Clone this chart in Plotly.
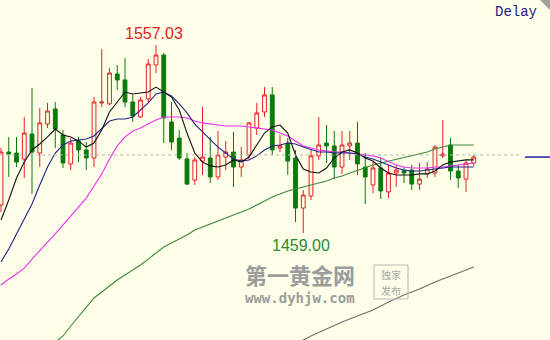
import plotly.graph_objects as go

# ---- data ----
idx = list(range(62))
opens = [1473.6,1501.2,1500.7,1497.6,1510.6,1500.7,1515.8,1523.7,1510.1,1495.0,
         1507.0,1502.3,1498.1,1526.8,1526.3,1541.9,1538.8,1527.3,1519.5,1528.9,
         1546.6,1551.8,1516.9,1508.5,1497.6,1486.6,1496.5,1498.1,1488.2,1498.6,
         1501.2,1493.4,1499.7,1513.7,1522.1,1531.0,1503.3,1505.9,1498.1,1472.0,
         1478.3,1499.2,1505.9,1504.4,1493.4,1504.4,1505.9,1493.4,1484.0,1492.9,
         1480.4,1490.3,1491.3,1491.8,1484.5,1489.8,1490.3,1499.2,1504.9,1491.3,
         1487.1,1495.5]
highs = [1503.3,1509.1,1509.1,1519.5,1534.6,1524.2,1526.8,1527.3,1512.7,1508.5,
         1509.1,1506.4,1529.9,1554.9,1545.0,1546.6,1550.2,1531.0,1529.9,1549.7,
         1557.03,1552.9,1527.3,1512.7,1500.7,1498.6,1524.7,1509.1,1512.2,1507.0,
         1511.7,1503.8,1516.9,1526.8,1535.1,1535.1,1510.1,1508.5,1502.3,1481.4,
         1502.3,1519.5,1515.3,1512.2,1512.2,1512.2,1516.9,1500.7,1496.0,1498.1,
         1494.5,1494.5,1493.4,1494.5,1495.5,1496.0,1504.9,1517.9,1508.5,1494.5,
         1497.1,1499.7]
lows = [1469.9,1488.2,1493.4,1487.7,1479.3,1493.4,1513.7,1503.3,1492.9,1491.8,
        1496.0,1491.8,1493.4,1524.7,1525.7,1533.6,1524.7,1516.9,1519.0,1527.3,
        1542.4,1505.9,1502.3,1497.1,1484.0,1484.0,1489.2,1485.1,1486.6,1491.8,
        1483.0,1488.2,1497.1,1510.1,1519.5,1499.7,1501.2,1489.2,1464.7,1459.00,
        1476.2,1497.1,1495.5,1487.1,1489.8,1497.1,1489.2,1474.1,1479.8,1476.7,
        1477.2,1483.0,1485.1,1481.4,1481.4,1487.7,1488.2,1498.1,1486.6,1482.5,
        1480.4,1493.9]
closes = [1501.2,1500.2,1496.0,1511.1,1501.2,1516.4,1522.6,1513.2,1495.5,1505.9,
          1502.3,1498.1,1527.3,1527.3,1542.4,1538.8,1527.3,1520.0,1528.35,1547.1,
          1551.8,1519.0,1506.4,1498.1,1484.5,1497.1,1498.6,1488.2,1499.7,1501.2,
          1493.4,1497.1,1516.4,1521.6,1531.0,1502.3,1504.4,1496.5,1472.0,1478.8,
          1499.2,1504.9,1504.4,1493.4,1504.9,1505.9,1495.0,1488.2,1492.9,1480.9,
          1490.3,1491.8,1490.3,1484.5,1487.1,1492.4,1503.8,1500.2,1491.3,1487.7,
          1495.5,1498.6]

ma5 = [1465.8,1476.2,1487.7,1496.0,1502.3,1505.4,1509.1,1513.2,1510.1,1509.1,
       1507.0,1503.8,1505.9,1512.7,1522.1,1527.3,1532.5,1531.5,1532.0,1532.5,
       1535.1,1532.5,1529.9,1523.1,1511.1,1500.7,1496.0,1494.0,1493.4,1494.5,
       1497.1,1496.0,1498.6,1504.9,1511.1,1514.3,1515.3,1511.1,1499.7,1492.4,
       1490.8,1490.3,1492.9,1498.1,1501.2,1502.3,1500.7,1498.1,1496.5,1492.9,
       1490.3,1489.2,1489.2,1489.2,1489.8,1489.8,1491.3,1494.5,1496.0,1496.5,
       1497.1,1497.1]
ma10 = [1443.9,1450.7,1458.5,1466.3,1474.1,1484.0,1493.4,1500.7,1504.9,1507.0,
        1507.5,1508.0,1509.6,1513.7,1517.4,1518.4,1518.4,1519.5,1523.1,1526.8,
        1531.5,1532.5,1530.4,1526.3,1521.6,1515.8,1511.7,1508.0,1503.8,1500.7,
        1497.6,1496.5,1497.1,1499.2,1502.3,1504.4,1504.9,1505.9,1505.4,1503.8,
        1502.3,1501.2,1501.2,1500.7,1500.7,1500.7,1500.2,1498.6,1497.6,1496.0,
        1494.5,1492.9,1491.8,1491.3,1491.3,1491.8,1492.4,1492.9,1493.4,1493.4,
        1493.4,1493.4]
ma20 = [1431.9,1435.0,1437.6,1440.7,1445.4,1449.6,1453.8,1458.5,1463.2,1467.9,
        1472.5,1477.2,1483.5,1489.8,1497.6,1504.4,1509.1,1512.2,1513.7,1515.8,
        1517.9,1519.5,1519.5,1519.5,1519.0,1517.4,1516.4,1515.8,1515.3,1514.8,
        1514.8,1514.8,1514.3,1513.7,1513.2,1512.7,1511.1,1509.6,1507.0,1504.4,
        1503.3,1502.3,1501.8,1501.2,1501.2,1500.7,1500.2,1499.7,1499.2,1498.1,
        1496.5,1494.5,1493.4,1492.9,1492.9,1492.9,1493.4,1493.4,1493.9,1494.5,
        1495.0,1495.5]
ma60_idx = list(range(7, 62))
ma60 = [1402.2,1405.3,1410.5,1415.2,1420.4,1425.1,1428.2,1431.4,1434.5,1437.1,
        1439.7,1442.3,1445.4,1448.6,1451.7,1453.8,1455.9,1458.0,1460.6,1462.1,
        1463.7,1465.3,1466.8,1468.4,1470.0,1471.5,1473.6,1475.7,1477.8,1479.3,
        1480.9,1481.9,1483.0,1484.0,1485.1,1486.1,1487.7,1488.7,1490.3,1491.8,
        1493.4,1494.5,1495.5,1496.5,1497.1,1498.1,1499.2,1500.2,1501.2,1502.8,
        1503.8,1504.9,1504.9,1504.9,1504.9]
ma120_idx = [38,40,42,44,46,48,50,52,54,56,58,60,61]
ma120 = [1401.1,1405.3,1408.9,1412.6,1415.7,1418.8,1423.0,1426.7,1429.8,1433.5,
         1436.6,1439.7,1441.3]

ref_price = 1499.7
last_price = 1498.6
hi_label = "1557.03"
lo_label = "1459.00"

BG = "#FEFEE9"
RED = "#E32222"
GRN = "#0B7A0B"

fig = go.Figure()
fig.add_trace(go.Candlestick(
    x=idx, open=opens, high=highs, low=lows, close=closes,
    increasing=dict(line=dict(color=RED, width=1), fillcolor=BG),
    decreasing=dict(line=dict(color=GRN, width=1), fillcolor=GRN),
    whiskerwidth=0, showlegend=False, hoverinfo="skip"))

def line(x, y, color, w=1.1):
    fig.add_trace(go.Scatter(x=x, y=y, mode="lines",
                             line=dict(color=color, width=w),
                             showlegend=False, hoverinfo="skip"))

line(ma120_idx, ma120, "#6E6E6E")
line(ma60_idx, ma60, "#3A8A3A")
line(idx, ma20, "#EE30EE")
line(idx, ma10, "#22228C")
line(idx, ma5, "#111111")

# reference dashed line and last-price marker
fig.add_shape(type="line", xref="paper", yref="y", x0=0, x1=522/550,
              y0=ref_price, y1=ref_price,
              line=dict(color="#B4B4B4", width=1, dash="3px,3px"))
fig.add_shape(type="line", xref="paper", yref="y", x0=525/550, x1=1,
              y0=last_price, y1=last_price,
              line=dict(color="#2222AA", width=1.5))

# corner triangle
fig.add_shape(type="path", xref="paper", yref="paper",
              path="M 0.9818 1 L 1 1 L 1 0.9706 Z",
              fillcolor="#A0A0A0", line=dict(width=0))

fig.add_annotation(x=20, y=1557.03, text=hi_label, showarrow=False,
                   xanchor="center", yanchor="middle", yshift=11, xshift=-2,
                   font=dict(family="Liberation Sans", size=16, color=RED))
fig.add_annotation(x=39, y=1459.00, text=lo_label, showarrow=False,
                   xanchor="center", yanchor="middle", yshift=-13, xshift=-2,
                   font=dict(family="Liberation Sans", size=16, color="#2D8A2D"))
fig.add_annotation(xref="paper", yref="paper", x=516/550, y=1 - 12/340,
                   text="Delay", showarrow=False, xanchor="center", yanchor="middle",
                   font=dict(family="Liberation Mono", size=14, color="#1C1C80"))

# watermark
fig.add_annotation(xref="paper", yref="paper", x=300/550, y=1 - 274/340,
                   text="<b>第一黄金网</b>", showarrow=False,
                   xanchor="center", yanchor="middle",
                   font=dict(family="Noto Sans CJK SC", size=22, color="#9C9C9C"))
fig.add_annotation(xref="paper", yref="paper", x=300/550, y=1 - 298/340,
                   text="<b>www.dyhjw.com</b>", showarrow=False,
                   xanchor="center", yanchor="middle",
                   font=dict(family="DejaVu Sans Mono", size=14, color="#9C9C9C"))
fig.add_shape(type="rect", xref="paper", yref="paper",
              x0=374/550, x1=408/550, y0=1 - 299/340, y1=1 - 265/340,
              line=dict(color="#B8B8B8", width=1))
fig.add_annotation(xref="paper", yref="paper", x=391/550, y=1 - 274/340,
                   text="独家", showarrow=False,
                   xanchor="center", yanchor="middle",
                   font=dict(family="Noto Sans CJK SC", size=10, color="#A8A8A8"))
fig.add_annotation(xref="paper", yref="paper", x=391/550, y=1 - 290/340,
                   text="发布", showarrow=False,
                   xanchor="center", yanchor="middle",
                   font=dict(family="Noto Sans CJK SC", size=10, color="#A8A8A8"))

fig.update_layout(
    width=550, height=340, margin=dict(l=0, r=0, t=0, b=0),
    paper_bgcolor=BG, plot_bgcolor=BG,
    xaxis=dict(range=[-0.13, 70.84], visible=False, rangeslider=dict(visible=False),
               fixedrange=True),
    yaxis=dict(range=[1403.2, 1580.49], visible=False, fixedrange=True),
    boxgap=0.3,
)

fig.write_html("out.html")
